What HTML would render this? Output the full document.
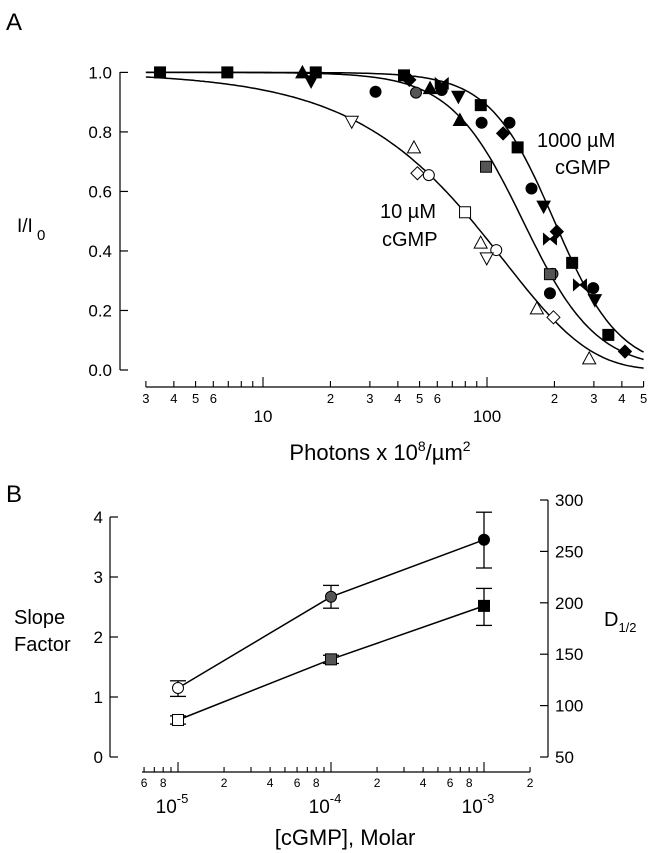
<!DOCTYPE html>
<html><head><meta charset="utf-8"><style>
html,body{margin:0;padding:0;background:#fff;}
svg{display:block;font-family:"Liberation Sans",sans-serif;}
</style></head><body>
<svg id="fig" width="651" height="853" viewBox="0 0 651 853" xmlns="http://www.w3.org/2000/svg">
<g id="A"></g>
<g id="B"></g>
</svg>
<script>
// ---------- Panel A data ----------
const a10x = [24.9, 47.2, 48.9, 55, 79.8, 93.7, 110, 99.7, 167, 198, 286];
const a10y = [0.834, 0.748, 0.661, 0.655, 0.53, 0.428, 0.403, 0.375, 0.207, 0.177, 0.039];
const a10sym = ['tdo','tup','dia','cir','sq','tup','cir','tdo','tup','dia','tup'];
const a100x = [48.2, 99, 196, 191];
const a100y = [0.932, 0.683, 0.323, 0.322];
const a100sym = ['cir','sq','cir','sq'];
const a1000x = [3.47, 6.93, 17.2, 42.6, 93.8, 137, 240, 348, 31.8, 62.8, 94.6, 126, 158, 191, 298, 15, 75.7, 55.7, 16.4, 74.5, 179, 303, 118, 205, 413, 62.8, 191, 260, 45];
const a1000y = [1.0, 1.0, 1.0, 0.99, 0.89, 0.748, 0.36, 0.118, 0.935, 0.941, 0.831, 0.831, 0.61, 0.258, 0.275, 1.0, 0.84, 0.947, 0.97, 0.918, 0.549, 0.235, 0.795, 0.465, 0.062, 0.963, 0.44, 0.286, 0.975];
const a1000sym = ['sq','sq','sq','sq','sq','sq','sq','sq','cir','cir','cir','cir','cir','cir','cir','tup','tup','tup','tdo','tdo','tdo','tdo','dia','dia','dia','bow','bow','bow','dia'];
const curveSlope = [1.13, 2.67, 3.0];
const curveD = [86, 145, 200];
const xTicksA = [3,4,5,6,7,8,9,10,20,30,40,50,60,70,80,90,100,200,300,400,500];
const xTickLabelsA = ['3','4','5','6','','','','','2','3','4','5','6','','','','','2','3','4','5'];
const yTicksA = [0,0.2,0.4,0.6,0.8,1.0];
const yTickLabelsA = ['0.0','0.2','0.4','0.6','0.8','1.0'];
// ---------- Panel B data ----------
const conc = [1e-5, 1e-4, 1e-3];
const slopeVals = [1.15, 2.67, 3.62];
const slopeLo = [1.01, 2.48, 3.15];
const slopeHi = [1.27, 2.86, 4.08];
const dHalf = [86, 145, 197];
const dLo = [82, 141, 178];
const dHi = [90, 149, 214];
const pointFill = ['#fff', '#555', '#000'];
const xTicksB = [6e-6,7e-6,8e-6,9e-6,1e-5,2e-5,3e-5,4e-5,5e-5,6e-5,7e-5,8e-5,9e-5,1e-4,2e-4,3e-4,4e-4,5e-4,6e-4,7e-4,8e-4,9e-4,1e-3,2e-3];
const xTickLabelsB = ['6','','8','','','2','','4','','6','','8','','','2','','4','','6','','8','','','2'];
const yTicksL = [0,1,2,3,4];
const yTicksR = [50,100,150,200,250,300];

const NS='http://www.w3.org/2000/svg';
function mk(parent,tag,attrs){const e=document.createElementNS(NS,tag);for(const k in attrs)e.setAttribute(k,attrs[k]);parent.appendChild(e);return e;}
const L10=Math.log10;
const xA=v=>263+224*(L10(v)-1);
const yA=v=>370-297.6*v;
const xB=c=>331+153*(L10(c)+4);
const yL=v=>757-60*v;
const yR=d=>757-(d-50)*257/250;

const A=document.getElementById('A');
const B=document.getElementById('B');
function txt(p,x,y,s,size,anchor,name){const t=mk(p,'text',{x:x,y:y,'font-size':size,'text-anchor':anchor||'start',fill:'#000'});t.textContent=s;return t;}

function marker(p,sym,cx,cy,fill,name){
  const r=5.5;let e;const st={fill:fill,stroke:'#000','stroke-width':1};
  if(sym==='sq'){e=mk(p,'rect',Object.assign({x:cx-r,y:cy-r,width:2*r,height:2*r},st));}
  else if(sym==='cir'){e=mk(p,'circle',Object.assign({cx:cx,cy:cy,r:r},st));}
  else if(sym==='tup'){e=mk(p,'polygon',Object.assign({points:`${cx},${cy-r-1} ${cx-r-1},${cy+r} ${cx+r+1},${cy+r}`},st));}
  else if(sym==='tdo'){e=mk(p,'polygon',Object.assign({points:`${cx},${cy+r+1} ${cx-r-1},${cy-r} ${cx+r+1},${cy-r}`},st));}
  else if(sym==='dia'){e=mk(p,'polygon',Object.assign({points:`${cx},${cy-r-1} ${cx+r+1},${cy} ${cx},${cy+r+1} ${cx-r-1},${cy}`},st));}
  else {e=mk(p,'polygon',Object.assign({points:`${cx-r-1},${cy-r} ${cx+r+1},${cy+r} ${cx+r+1},${cy-r} ${cx-r-1},${cy+r}`},st));}
  
  
}

txt(A,6,30,'A',24,'start','panel-a-label');
let ax=mk(A,'line',{x1:120,y1:72,x2:120,y2:370,stroke:'#000','stroke-width':1.2});


yTicksA.forEach((v,i)=>{
  mk(A,'line',{x1:120,y1:yA(v),x2:128,y2:yA(v),stroke:'#000','stroke-width':1.2});
  txt(A,112,yA(v)+6,yTickLabelsA[i],17,'end','y-tick-label');
});
const yt=txt(A,17,232,'I/I',19,'start','y-axis-title');
const sub=mk(yt,'tspan',{dy:8,'font-size':15});sub.textContent=' 0';
let xl=mk(A,'line',{x1:xA(3),y1:387,x2:xA(500),y2:387,stroke:'#000','stroke-width':1.2});


xTicksA.forEach((v,i)=>{
  const major=(v===10||v===100);
  mk(A,'line',{x1:xA(v),y1:387,x2:xA(v),y2:major?377:381,stroke:'#000','stroke-width':1.1});
  if(xTickLabelsA[i])txt(A,xA(v),403,xTickLabelsA[i],13,'middle','x-tick-label');
});
txt(A,xA(10),422,'10',17,'middle','x-decade-label');
txt(A,xA(100),422,'100',17,'middle','x-decade-label');
const xt=txt(A,380,460,'Photons x 10',22,'middle','x-axis-title');
let s1=mk(xt,'tspan',{dy:-9,'font-size':14});s1.textContent='8';
let s2=mk(xt,'tspan',{dy:9});s2.textContent='/µm';
let s3=mk(xt,'tspan',{dy:-9,'font-size':14});s3.textContent='2';

function curve(idx){
  const n=curveSlope[idx],D=curveD[idx];let d='';
  for(let k=0;k<=200;k++){
    const lv=L10(3)+k/200*(L10(500)-L10(3));const v=Math.pow(10,lv);
    const y= idx===0 ? Math.exp(-Math.LN2*Math.pow(v/D,n)) : 1/(1+Math.pow(v/D,n));
    d+=(k?'L':'M')+xA(v).toFixed(1)+','+yA(y).toFixed(1);
  }
  const p=mk(A,'path',{d:d,fill:'none',stroke:'#000','stroke-width':1.5});
  
  
}
curve(0);curve(1);curve(2);
a10x.forEach((x,i)=>marker(A,a10sym[i],xA(x),yA(a10y[i]),'#fff','point-10um'));
a100x.forEach((x,i)=>marker(A,a100sym[i],xA(x),yA(a100y[i]),'#555','point-100um'));
a1000x.forEach((x,i)=>marker(A,a1000sym[i],xA(x),yA(a1000y[i]),'#000','point-1000um'));
txt(A,380,218,'10  µM',20,'start','label-10um');
txt(A,382,246,'cGMP',20,'start','label-10um-cgmp');
txt(A,537,147,'1000  µM',20,'start','label-1000um');
txt(A,555,174,'cGMP',20,'start','label-1000um-cgmp');

txt(B,6,502,'B',24,'start','panel-b-label');
let la=mk(B,'line',{x1:110,y1:yL(4),x2:110,y2:yL(0),stroke:'#000','stroke-width':1.2});


yTicksL.forEach(v=>{mk(B,'line',{x1:110,y1:yL(v),x2:118,y2:yL(v),stroke:'#000','stroke-width':1.2});txt(B,103,yL(v)+6,String(v),17,'end','left-tick-label');});
let ra=mk(B,'line',{x1:548,y1:yR(300),x2:548,y2:yR(50),stroke:'#000','stroke-width':1.2});


yTicksR.forEach(v=>{mk(B,'line',{x1:540,y1:yR(v),x2:548,y2:yR(v),stroke:'#000','stroke-width':1.2});txt(B,555,yR(v)+6,String(v),17,'start','right-tick-label');});
txt(B,14,624,'Slope',20,'start','left-axis-title');
txt(B,14,651,'Factor',20,'start','left-axis-title');
const dt=txt(B,604,626,'D',20,'start','right-axis-title');
let ds=mk(dt,'tspan',{dy:6,'font-size':13});ds.textContent='1/2';
let bx=mk(B,'line',{x1:xB(6e-6)-2,y1:772,x2:xB(2e-3),y2:772,stroke:'#000','stroke-width':1.2});


xTicksB.forEach((v,i)=>{
  const major=[1e-5,1e-4,1e-3].some(m=>Math.abs(v-m)<m*1e-6);
  mk(B,'line',{x1:xB(v),y1:772,x2:xB(v),y2:major?762:767,stroke:'#000','stroke-width':1.1});
  if(xTickLabelsB[i])txt(B,xB(v),787,xTickLabelsB[i],12,'middle','x-tick-label-b');
});
[-5,-4,-3].forEach(e=>{
  const t=txt(B,xB(Math.pow(10,e))-6,813,'10',19,'middle','x-decade-label-b');
  const sp=mk(t,'tspan',{dy:-10,'font-size':13});sp.textContent=String(e);
});
txt(B,345,845,'[cGMP], Molar',22,'middle','x-axis-title-b');

function poly(vals,yf,name){
  const p=mk(B,'polyline',{points:conc.map((c,i)=>xB(c)+','+yf(vals[i])).join(' '),fill:'none',stroke:'#000','stroke-width':1.5});
  
  
}
poly(slopeVals,yL,'slope-line');
poly(dHalf,yR,'dhalf-line');
function err(x,y1,y2,name){
  const g=mk(B,'g',{stroke:'#000','stroke-width':1.3});
  
  
  mk(g,'line',{x1:x,y1:y1,x2:x,y2:y2});mk(g,'line',{x1:x-8,y1:y1,x2:x+8,y2:y1});mk(g,'line',{x1:x-8,y1:y2,x2:x+8,y2:y2});
}
conc.forEach((c,i)=>{
  err(xB(c),yL(slopeLo[i]),yL(slopeHi[i]),'slope-error-bar');
  err(xB(c),yR(dLo[i]),yR(dHi[i]),'dhalf-error-bar');
  marker(B,'cir',xB(c),yL(slopeVals[i]),pointFill[i],'slope-point');
  marker(B,'sq',xB(c),yR(dHalf[i]),pointFill[i],'dhalf-point');
});
</script>
</body></html>
